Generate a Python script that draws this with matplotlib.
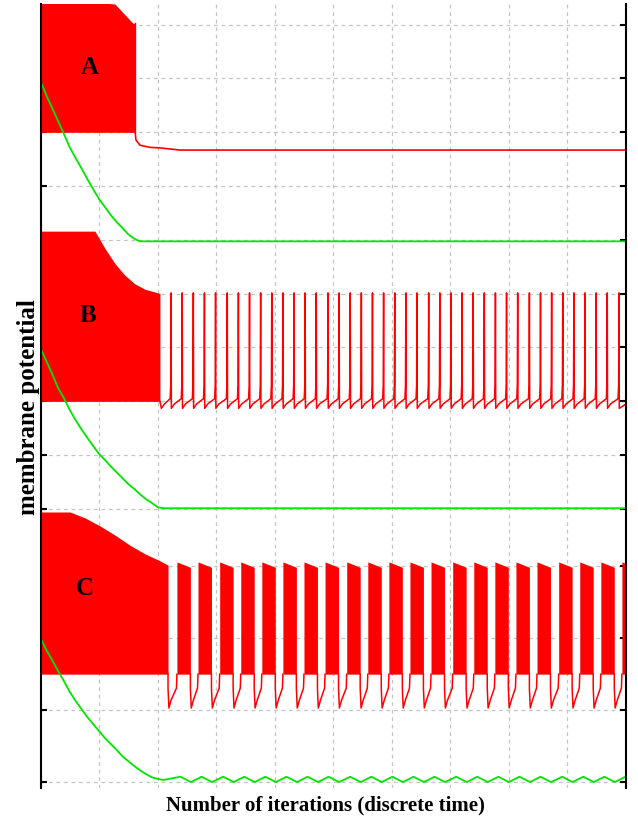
import matplotlib
matplotlib.use("Agg")
import matplotlib.pyplot as plt

# ---------------- data (x: iterations, y: membrane potential, arbitrary offset units) ----------------
y_ticks = [0.0, 1.34, 2.68, 4.02, 5.08, 6.09, 7.09, 8.10, 9.09, 10.09, 11.10, 12.10, 13.11, 14.10]
x_ticks = [0, 100, 200, 300, 400, 500, 600, 700, 800, 900, 1000]

# common sampling of the transient (iterations)
t_trans = [0, 10, 20, 30, 40, 50, 60, 70, 80, 90, 100, 110, 120, 130, 140, 150, 160, 170, 180, 190, 200, 210]

# Panel A : bursting region then silent
a_env_x = [0, 127, 158, 161]
a_env_top = [14.60, 14.49, 14.13, 14.13]
a_env_bottom = 12.10
a_tail_x = [161, 163, 170, 187, 204, 238, 1000]
a_tail_y = [12.18, 11.96, 11.86, 11.82, 11.81, 11.77, 11.77]
a_green = [13.05, 12.79, 12.55, 12.31, 12.07, 11.82, 11.62, 11.43, 11.23, 11.04, 10.86,
           10.71, 10.56, 10.43, 10.32, 10.20, 10.12, 10.07, 10.07, 10.07, 10.07, 10.07]
a_green_end = 10.07

# Panel B : bursting region then tonic spiking
b_env_x = [0, 93, 110, 127, 144, 161, 178, 204]
b_env_top = [10.26, 10.26, 9.94, 9.66, 9.44, 9.28, 9.18, 9.10]
b_env_bottom = 7.09
b_spike_times = [223, 242, 261, 280, 299, 319, 338, 357, 376, 395, 414, 433, 452, 471,
                 491, 510, 529, 548, 567, 586, 605, 624, 643, 663, 682, 701, 720, 739,
                 758, 777, 796, 815, 835, 854, 873, 892, 911, 930, 949, 968, 988]
b_peak = 9.11
b_trough = 6.96
b_rest = 7.04
b_pre = 7.14
b_bump = 7.40
b_green = [8.08, 7.84, 7.60, 7.34, 7.15, 6.93, 6.74, 6.57, 6.41, 6.26, 6.11,
           6.00, 5.88, 5.77, 5.66, 5.55, 5.46, 5.36, 5.27, 5.20, 5.12, 5.10]
b_green_end = 5.10

# Panel C : bursting region then periodic bursts
c_env_x = [0, 50.4, 76.0, 101.6, 127.2, 152.9, 178.5, 204.1, 217.8]
c_env_top = [5.03, 5.03, 4.92, 4.77, 4.60, 4.41, 4.25, 4.12, 4.04]
c_env_bottom = 2.01
c_burst_starts = [233, 269, 306, 342, 378, 414, 450, 486, 523, 559, 595, 631, 667,
                  704, 740, 776, 812, 848, 885, 921, 957, 993]
c_burst_len = 23
c_burst_top_start = 4.10
c_burst_top_end = 4.00
c_gap_trough = 1.38
c_gap_edge = 1.75
c_green = [2.68, 2.46, 2.27, 2.07, 1.88, 1.68, 1.51, 1.36, 1.21, 1.08, 0.95,
           0.82, 0.71, 0.60, 0.48, 0.39, 0.30, 0.22, 0.15, 0.09, 0.06, 0.04]
c_wave_peak = 0.10
c_wave_trough = 0.00

# ---------------- figure ----------------
RED = "#ff0000"
GREEN = "#00e600"

fig = plt.figure(figsize=(6.38, 8.21), dpi=100)
ax = fig.add_axes([40.5 / 638, 1 - 788 / 821, (626 - 40.5) / 638, (788 - 4) / 821])
ax.set_xlim(0, 1000)
ax.set_ylim(-0.11, 14.49)
ax.set_axisbelow(True)
ax.set_xticks(x_ticks)
ax.set_yticks(y_ticks)
ax.set_xticklabels([])
ax.set_yticklabels([])
ax.grid(True, color="#c4c4c4", linestyle=(0, (3, 3)), linewidth=0.9)
ax.tick_params(axis="y", direction="in", length=4, width=1.5, left=True, right=True, color="black")
ax.tick_params(axis="x", length=0)
for s in ["top", "bottom"]:
    ax.spines[s].set_visible(False)
for s in ["left", "right"]:
    ax.spines[s].set_linewidth(1.5)

# ---- Panel A ----
ax.fill_between(a_env_x, a_env_bottom, a_env_top, color=RED, lw=0)
ax.plot([a_env_x[-1], a_env_x[-1]], [a_env_bottom, a_env_top[-1]], color=RED, lw=1)
ax.plot(a_tail_x, a_tail_y, color=RED, lw=1.2)
ax.plot(t_trans + [1000], a_green + [a_green_end], color=GREEN, lw=1.3)

# ---- Panel B ----
ax.fill_between(b_env_x, b_env_bottom, b_env_top, color=RED, lw=0)
bx = [b_env_x[-1], b_env_x[-1] + 2.5]
by = [b_env_bottom, b_trough]
for t in b_spike_times:
    bx += [bx[-1] + 5, t - 1.6, t - 0.6, t, t + 0.5]
    by += [b_rest, b_pre, b_bump, b_peak, b_trough]
bx += [1000]
by += [b_rest]
ax.plot(bx, by, color=RED, lw=1.1)
ax.plot(t_trans + [1000], b_green + [b_green_end], color=GREEN, lw=1.3)

# ---- Panel C ----
ax.fill_between(c_env_x, c_env_bottom, c_env_top, color=RED, lw=0)
ends = [c_env_x[-1]] + [s + c_burst_len for s in c_burst_starts]
for s in c_burst_starts:
    ax.fill_between([s, s + c_burst_len], c_env_bottom,
                    [c_burst_top_start, c_burst_top_end], color=RED, lw=0)
for e, s in zip(ends[:-1], c_burst_starts):
    ax.plot([e, e, e + 1.5, e + 5, s - 0.8, s],
            [c_env_bottom, c_gap_edge, c_gap_trough, 1.52, c_gap_edge, c_env_bottom],
            color=RED, lw=1.1)
gx = list(t_trans)
gy = list(c_green)
for s in c_burst_starts:
    gx += [s + 6, s + 24]
    gy += [c_wave_peak, c_wave_trough]
ax.plot(gx, gy, color=GREEN, lw=1.3)

# ---- labels ----
lab_font = dict(family="Liberation Serif", weight="bold")
ax.text(84.5, 13.30, "A", fontsize=18, ha="center", va="center", **lab_font)
ax.text(81.1, 8.68, "B", fontsize=18, ha="center", va="center", **lab_font)
ax.text(76.0, 3.61, "C", fontsize=18, ha="center", va="center", **lab_font)

fig.text(29 / 638, 1 - 407 / 821, "membrane potential", rotation=90,
         ha="center", va="center", fontsize=18, **lab_font)
fig.text(325 / 638, 1 - 805 / 821, "Number of iterations (discrete time)",
         ha="center", va="center", fontsize=15, **lab_font)

fig.savefig("out.png", dpi=100)
